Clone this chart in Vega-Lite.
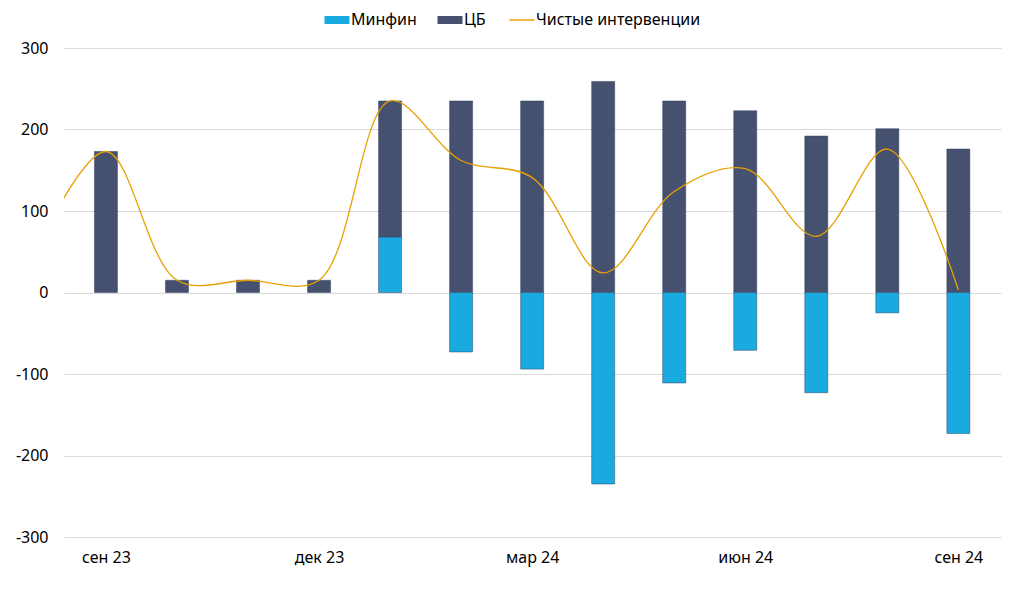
{
  "$schema": "https://vega.github.io/schema/vega-lite/v6.json",
  "autosize": {"type": "fit", "contains": "padding"},
  "width": 1024,
  "height": 591,
  "padding": {"left": 15, "right": 23, "top": 40, "bottom": 26},
  "background": "white",
  "config": {
    "font": "Noto Sans",
    "view": {"stroke": null},
    "axis": {"labelFont": "Noto Sans", "labelFontSize": 16, "labelColor": "#000000"}
  },
  "data": {
    "values": [
      {"n": 0, "month": "сен 23", "series": "ЦБ", "value": 173},
      {"n": 1, "month": "окт 23", "series": "ЦБ", "value": 15},
      {"n": 2, "month": "ноя 23", "series": "ЦБ", "value": 15},
      {"n": 3, "month": "дек 23", "series": "ЦБ", "value": 15},
      {"n": 4, "month": "янв 24", "series": "ЦБ", "value": 167},
      {"n": 4, "month": "янв 24", "series": "Минфин", "value": 68},
      {"n": 5, "month": "фев 24", "series": "ЦБ", "value": 235},
      {"n": 5, "month": "фев 24", "series": "Минфин", "value": -73},
      {"n": 6, "month": "мар 24", "series": "ЦБ", "value": 235},
      {"n": 6, "month": "мар 24", "series": "Минфин", "value": -94},
      {"n": 7, "month": "апр 24", "series": "ЦБ", "value": 259},
      {"n": 7, "month": "апр 24", "series": "Минфин", "value": -235},
      {"n": 8, "month": "май 24", "series": "ЦБ", "value": 235},
      {"n": 8, "month": "май 24", "series": "Минфин", "value": -111},
      {"n": 9, "month": "июн 24", "series": "ЦБ", "value": 223},
      {"n": 9, "month": "июн 24", "series": "Минфин", "value": -71},
      {"n": 10, "month": "июл 24", "series": "ЦБ", "value": 192},
      {"n": 10, "month": "июл 24", "series": "Минфин", "value": -123},
      {"n": 11, "month": "авг 24", "series": "ЦБ", "value": 201},
      {"n": 11, "month": "авг 24", "series": "Минфин", "value": -25},
      {"n": 12, "month": "сен 24", "series": "ЦБ", "value": 176},
      {"n": 12, "month": "сен 24", "series": "Минфин", "value": -173},
      {"n": -1, "month": "авг 23", "series": "Чистые интервенции", "value": 50},
      {"n": 0, "month": "сен 23", "series": "Чистые интервенции", "value": 173},
      {"n": 1, "month": "окт 23", "series": "Чистые интервенции", "value": 15},
      {"n": 2, "month": "ноя 23", "series": "Чистые интервенции", "value": 15},
      {"n": 3, "month": "дек 23", "series": "Чистые интервенции", "value": 15},
      {"n": 4, "month": "янв 24", "series": "Чистые интервенции", "value": 235},
      {"n": 5, "month": "фев 24", "series": "Чистые интервенции", "value": 162},
      {"n": 6, "month": "мар 24", "series": "Чистые интервенции", "value": 141},
      {"n": 7, "month": "апр 24", "series": "Чистые интервенции", "value": 24},
      {"n": 8, "month": "май 24", "series": "Чистые интервенции", "value": 124},
      {"n": 9, "month": "июн 24", "series": "Чистые интервенции", "value": 152},
      {"n": 10, "month": "июл 24", "series": "Чистые интервенции", "value": 69},
      {"n": 11, "month": "авг 24", "series": "Чистые интервенции", "value": 176},
      {"n": 12, "month": "сен 24", "series": "Чистые интервенции", "value": 3}
    ]
  },
  "encoding": {
    "x": {
      "field": "n",
      "type": "quantitative",
      "scale": {"domain": [-0.52, 12.53], "nice": false, "zero": false},
      "axis": {
        "title": null,
        "domain": false,
        "ticks": false,
        "grid": false,
        "values": [0, 3, 6, 9, 12],
        "labelAngle": 0,
        "labelPadding": 12,
        "labelFlush": false,
        "labelOverlap": false,
        "labelExpr": "['сен 23','окт 23','ноя 23','дек 23','янв 24','фев 24','мар 24','апр 24','май 24','июн 24','июл 24','авг 24','сен 24'][datum.value]"
      }
    },
    "y": {
      "field": "value",
      "type": "quantitative",
      "scale": {"domain": [-300, 300], "nice": false},
      "axis": {
        "title": null,
        "values": [-300, -200, -100, 0, 100, 200, 300],
        "domain": false,
        "ticks": false,
        "labelPadding": 16,
        "labelExpr": "replace(datum.label, '−', '-')",
        "gridColor": "#d9d9d9",
        "gridWidth": 1
      }
    },
    "color": {
      "field": "series",
      "type": "nominal",
      "scale": {
        "domain": ["Минфин", "ЦБ", "Чистые интервенции"],
        "range": ["#19AAE0", "#45516F", "#E8A000"]
      },
      "legend": {
        "title": null,
        "orient": "none",
        "direction": "horizontal",
        "legendX": 265,
        "legendY": -36,
        "labelFont": "Noto Sans",
        "labelFontSize": 16,
        "labelColor": "#000000",
        "labelLimit": 400,
        "columnPadding": 20,
        "symbolSize": 625,
        "labelOffset": 6,
        "encode": {
          "symbols": {
            "update": {
              "shape": {"signal": "datum.value === 'Чистые интервенции' ? 'stroke' : 'M-1,-0.32H1V0.32H-1Z'"},
              "strokeWidth": {"signal": "datum.value === 'Чистые интервенции' ? 1.5 : 0"},
              "stroke": {"signal": "datum.value === 'Чистые интервенции' ? '#E8A000' : null"}
            }
          }
        }
      }
    }
  },
  "layer": [
    {
      "transform": [{"filter": "datum.series !== 'Чистые интервенции'"}],
      "mark": {"type": "bar", "size": 23, "orient": "vertical", "stroke": "#2F3B5E", "strokeWidth": 0.8, "strokeOpacity": 0.6},
      "encoding": {
        "y": {"field": "value", "type": "quantitative", "stack": "zero"},
        "order": {"field": "series", "sort": "ascending"}
      }
    },
    {
      "transform": [{"filter": "datum.series === 'Чистые интервенции'"}],
      "mark": {"type": "line", "interpolate": "catmull-rom", "strokeWidth": 1.3, "clip": true}
    }
  ]
}
